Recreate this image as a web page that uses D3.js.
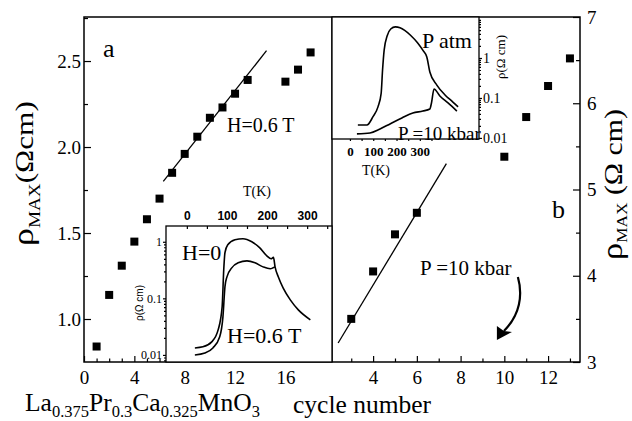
<!DOCTYPE html>
<html>
<head>
<meta charset="utf-8">
<script src="https://cdn.jsdelivr.net/npm/d3@7"></script>
<style>
body { margin: 0; background: #fff; }
svg { display: block; }
</style>
</head>
<body>
<div id="chart"></div>
<script>
var width = 632, height = 421;
var serif = "'Liberation Serif', Tinos, 'Times New Roman', Times, 'Nimbus Roman', 'Noto Serif', 'DejaVu Serif', FreeSerif, serif";
var sans = "'Liberation Sans', Arial, sans-serif";

// panel a: rho_max vs cycle number, H = 0.6 T
var cyclesA = [1, 2, 3, 4, 5, 6, 7, 8, 9, 10, 11, 12, 13, 16, 17, 18];
var rhoA = [0.84, 1.14, 1.31, 1.45, 1.58, 1.70, 1.85, 1.96, 2.06, 2.17, 2.23, 2.31, 2.39, 2.38, 2.45, 2.55];
var fitCyclesA = [6.3, 14.5];
var fitRhoA = [1.80, 2.56];

// panel b: rho_max vs cycle number, P = 10 kbar
var cyclesB = [3, 4, 5, 6, 10, 11, 12, 13];
var rhoB = [3.50, 4.05, 4.48, 4.73, 5.38, 5.84, 6.20, 6.52];
var fitCyclesB = [2.4, 7.35];
var fitRhoB = [3.22, 5.30];

// inset a: rho(T) for H = 0 and H = 0.6 T
var tempH0 = [20, 40, 62, 78, 88, 92, 95, 102, 120, 140, 162, 182, 200, 210, 216, 220, 228, 240, 258, 278, 308];
var rhoH0 = [0.0133, 0.0139, 0.017, 0.0277, 0.0706, 0.32, 0.64, 0.885, 1.085, 1.13, 1.0, 0.78, 0.56, 0.5, 0.53, 0.36, 0.24, 0.153, 0.094, 0.0625, 0.0418];
var tempH06 = [20, 45, 65, 82, 90, 95, 100, 112, 128, 150, 170, 190, 208, 215, 220];
var rhoH06 = [0.0100, 0.0108, 0.0133, 0.0209, 0.047, 0.16, 0.24, 0.346, 0.425, 0.46, 0.425, 0.36, 0.333, 0.346, 0.36];

// inset b: rho(T) at atmospheric pressure and 10 kbar
var tempAtm = [34, 73, 99, 120, 134, 140, 147, 160, 175, 195, 215, 235, 260, 290, 315, 330, 343, 373, 408, 442, 464];
var rhoAtm = [0.021, 0.021, 0.034, 0.059, 0.13, 0.5, 1.6, 3.6, 5.3, 6.0, 5.7, 4.9, 3.7, 2.4, 1.5, 1.06, 0.447, 0.21, 0.119, 0.079, 0.06];
var temp10k = [30, 86, 129, 172, 223, 270, 313, 343, 350, 361, 386, 421, 459];
var rho10k = [0.0126, 0.0133, 0.0168, 0.0224, 0.0316, 0.042, 0.047, 0.053, 0.075, 0.168, 0.112, 0.075, 0.047];

var tickTempLabels = [0, 100, 200, 300];
var logTicks = [0.01, 0.1, 1];

var svg = d3.select("#chart").append("svg")
    .attr("width", width)
    .attr("height", height)
    .style("font-family", serif);

var xA = d3.scaleLinear().domain([0, 19.7]).range([84, 332]);
var yA = d3.scaleLinear().domain([0.75, 2.756]).range([362, 17]);
var xB = d3.scaleLinear().domain([2.12, 13.46]).range([332, 580]);
var yB = d3.scaleLinear().domain([3, 7]).range([362, 17]);

var xI1 = d3.scaleLinear().domain([-52, 362]).range([166, 332]);
var yI1 = d3.scaleLog().domain([0.0075, 1.9]).range([362, 226]);
var xI2 = d3.scaleLinear().domain([-77, 554]).range([332, 479]);
var yI2 = d3.scaleLog().domain([0.0094, 10.6]).range([139, 17]);

function styleAxis(g, size, weight, family) {
    g.attr("font-family", null).attr("font-size", null);
    g.select(".domain").remove();
    g.selectAll(".tick line").attr("stroke", "#000").attr("stroke-width", 1.2);
    g.selectAll("text")
        .attr("fill", "#000")
        .style("font-size", size + "px")
        .style("font-weight", weight || "normal")
        .style("font-family", family || serif);
}

function minorLog(scale) {
    var out = [];
    [0.001, 0.01, 0.1, 1].forEach(function (d) {
        for (var k = 2; k <= 9; k++) {
            var v = d * k;
            if (v >= scale.domain()[0] && v <= scale.domain()[1]) out.push(v);
        }
    });
    return out;
}

function label(x, y, size, str) {
    return svg.append("text").attr("x", x).attr("y", y)
        .style("font-family", serif).style("font-size", size + "px").text(str);
}

// ---- main axes, panel a
svg.append("g")
    .attr("transform", "translate(0,362)")
    .call(d3.axisBottom(xA).tickValues(d3.range(0, 20)).tickSize(-3).tickPadding(9)
        .tickFormat(function (d) { return d % 4 === 0 && d <= 16 ? d : ""; }))
    .call(styleAxis, 19)
    .call(function (g) {
        g.selectAll(".tick line").attr("y2", function (d) { return d % 4 === 0 ? -6 : -3.5; });
    });

svg.append("g")
    .attr("transform", "translate(84,0)")
    .call(d3.axisLeft(yA).tickValues(d3.range(1, 2.76, 0.25)).tickSize(-4).tickPadding(3)
        .tickFormat(function (d) { return Math.abs(d * 2 - Math.round(d * 2)) < 1e-6 ? d.toFixed(1) : ""; }))
    .call(styleAxis, 19)
    .call(function (g) {
        g.selectAll(".tick line").attr("x2", function (d) { return Math.abs(d * 2 - Math.round(d * 2)) < 1e-6 ? 7 : 4; });
        g.selectAll("text").attr("x", -3);
    });

// ---- main axes, panel b
svg.append("g")
    .attr("transform", "translate(0,362)")
    .call(d3.axisBottom(xB).tickValues(d3.range(3, 14)).tickSize(-3).tickPadding(9)
        .tickFormat(function (d) { return d % 2 === 0 ? d : ""; }))
    .call(styleAxis, 19)
    .call(function (g) {
        g.selectAll(".tick line").attr("y2", function (d) { return d % 2 === 0 ? -6 : -3.5; });
    });

svg.append("g")
    .attr("transform", "translate(580,0)")
    .call(d3.axisRight(yB).tickValues(d3.range(3, 7.01, 0.5)).tickSize(-4).tickPadding(7)
        .tickFormat(function (d) { return d % 1 === 0 ? d : ""; }))
    .call(styleAxis, 19)
    .call(function (g) {
        g.selectAll(".tick line").attr("x2", function (d) { return d % 1 === 0 ? -7 : -4; });
        g.selectAll("text").attr("x", 7);
    });

// frame and panel divider
svg.append("rect")
    .attr("x", xA(0)).attr("y", 17)
    .attr("width", xB.range()[1] - xA(0)).attr("height", 362 - 17)
    .attr("fill", "none").attr("stroke", "#000").attr("stroke-width", 1.5);
svg.append("line")
    .attr("x1", 332).attr("x2", 332).attr("y1", 17).attr("y2", 362)
    .attr("stroke", "#000").attr("stroke-width", 1.5);

// ---- data, panel a
var sq = 8;
svg.append("g").selectAll("rect")
    .data(cyclesA)
    .enter().append("rect")
    .attr("x", function (d) { return xA(d) - sq / 2; })
    .attr("y", function (d, i) { return yA(rhoA[i]) - sq / 2; })
    .attr("width", sq).attr("height", sq)
    .attr("fill", "#000");

svg.append("line")
    .attr("x1", xA(fitCyclesA[0])).attr("y1", yA(fitRhoA[0]))
    .attr("x2", xA(fitCyclesA[1])).attr("y2", yA(fitRhoA[1]))
    .attr("stroke", "#000").attr("stroke-width", 1.3);

// ---- data, panel b
svg.append("g").selectAll("rect")
    .data(cyclesB)
    .enter().append("rect")
    .attr("x", function (d) { return xB(d) - sq / 2; })
    .attr("y", function (d, i) { return yB(rhoB[i]) - sq / 2; })
    .attr("width", sq).attr("height", sq)
    .attr("fill", "#000");

svg.append("line")
    .attr("x1", xB(fitCyclesB[0])).attr("y1", yB(fitRhoB[0]))
    .attr("x2", xB(fitCyclesB[1])).attr("y2", yB(fitRhoB[1]))
    .attr("stroke", "#000").attr("stroke-width", 1.3);

// ---- inset a
svg.append("rect")
    .attr("x", 166).attr("y", 226).attr("width", 332 - 166).attr("height", 362 - 226)
    .attr("fill", "#fff").attr("stroke", "#000").attr("stroke-width", 1.3);

svg.append("g")
    .attr("transform", "translate(0,226)")
    .call(d3.axisTop(xI1).tickValues(d3.range(0, 351, 50)).tickSize(-3).tickPadding(6)
        .tickFormat(function (d) { return tickTempLabels.indexOf(d) >= 0 ? d : ""; }))
    .call(styleAxis, 12, "bold", sans);

svg.append("g")
    .attr("transform", "translate(166,0)")
    .call(d3.axisLeft(yI1).tickValues(logTicks).tickSize(3).tickPadding(1)
        .tickFormat(function (d) { return d >= 1 ? "1" : String(d); }))
    .call(styleAxis, 12);
svg.append("g")
    .attr("transform", "translate(166,0)")
    .call(d3.axisLeft(yI1).tickValues(minorLog(yI1)).tickSize(2).tickFormat(""))
    .call(styleAxis, 12);

var lineI1 = d3.line().curve(d3.curveMonotoneX)
    .x(function (d) { return xI1(d[0]); })
    .y(function (d) { return yI1(d[1]); });

svg.append("path")
    .attr("d", lineI1(d3.zip(tempH0, rhoH0)))
    .attr("fill", "none").attr("stroke", "#000").attr("stroke-width", 1.6);
svg.append("path")
    .attr("d", lineI1(d3.zip(tempH06, rhoH06)))
    .attr("fill", "none").attr("stroke", "#000").attr("stroke-width", 1.6);

label(257, 196, 14, "T(K)").attr("text-anchor", "middle");
svg.append("text")
    .attr("transform", "translate(143,303) rotate(-90)")
    .attr("text-anchor", "middle")
    .style("font-family", sans)
    .style("font-size", "10px")
    .text("ρ(Ω cm)");
label(182, 260, 22, "H=0");
label(227, 343, 22, "H=0.6 T");

// ---- inset b
svg.append("rect")
    .attr("x", 332).attr("y", 17).attr("width", 479 - 332).attr("height", 139 - 17)
    .attr("fill", "#fff").attr("stroke", "#000").attr("stroke-width", 1.3);

svg.append("g")
    .attr("transform", "translate(0,139)")
    .call(d3.axisBottom(xI2).tickValues(d3.range(0, 351, 50)).tickSize(2).tickPadding(6)
        .tickFormat(function (d) { return tickTempLabels.indexOf(d) >= 0 ? d : ""; }))
    .call(styleAxis, 13, "bold");

svg.append("g")
    .attr("transform", "translate(479,0)")
    .call(d3.axisRight(yI2).tickValues(logTicks).tickSize(3).tickPadding(1)
        .tickFormat(function (d) { return d >= 1 ? "1" : String(d); }))
    .call(styleAxis, 14);
svg.append("g")
    .attr("transform", "translate(479,0)")
    .call(d3.axisRight(yI2).tickValues(minorLog(yI2)).tickSize(2).tickFormat(""))
    .call(styleAxis, 14);

var lineI2 = d3.line().curve(d3.curveMonotoneX)
    .x(function (d) { return xI2(d[0]); })
    .y(function (d) { return yI2(d[1]); });

svg.append("path")
    .attr("d", lineI2(d3.zip(tempAtm, rhoAtm)))
    .attr("fill", "none").attr("stroke", "#000").attr("stroke-width", 1.6);
svg.append("path")
    .attr("d", lineI2(d3.zip(temp10k, rho10k)))
    .attr("fill", "none").attr("stroke", "#000").attr("stroke-width", 1.6);

label(376, 175, 14, "T(K)").attr("text-anchor", "middle");
svg.append("text")
    .attr("transform", "translate(505,57) rotate(-90)")
    .attr("text-anchor", "middle")
    .style("font-family", serif)
    .style("font-size", "13px")
    .text("ρ(Ω cm)");
label(422, 48, 22, "P atm");
label(398, 140, 19, "P =10 kbar");

// ---- panel letters and notes
label(103, 57, 26, "a");
label(552, 218, 26, "b");
label(227, 132, 20, "H=0.6 T");
label(420, 275, 21, "P =10 kbar");

// arrow towards the high-cycle points
var arrowPath = d3.path();
arrowPath.moveTo(xB(10.62), yB(3.985));
arrowPath.bezierCurveTo(xB(10.85), yB(3.777), xB(10.72), yB(3.545), xB(9.98), yB(3.36));
svg.append("path").attr("d", arrowPath.toString())
    .attr("fill", "none").attr("stroke", "#000").attr("stroke-width", 2.2);
svg.append("path")
    .attr("d", "M" + xB(9.66) + "," + yB(3.255) + "L" + xB(9.66) + "," + yB(3.417) +
        "L" + xB(9.98) + "," + yB(3.36) + "L" + xB(10.35) + "," + yB(3.348) + "Z")
    .attr("fill", "#000");

// axis titles
var leftTitle = svg.append("text")
    .style("font-family", serif)
    .attr("transform", "translate(33,246) rotate(-90) scale(1.2,1)");
leftTitle.append("tspan").style("font-size", "30px").text("ρ");
leftTitle.append("tspan").style("font-size", "16px").attr("dy", 7).text("MAX");
leftTitle.append("tspan").style("font-size", "26px").attr("dy", -7).text("(Ωcm)");

var rightTitle = svg.append("text")
    .style("font-family", serif)
    .attr("transform", "translate(622,260) rotate(-90) scale(1.15,1)");
rightTitle.append("tspan").style("font-size", "30px").text("ρ");
rightTitle.append("tspan").style("font-size", "15px").attr("dy", 5).text("MAX");
rightTitle.append("tspan").style("font-size", "26px").attr("dy", -5).text(" (Ω cm)");

var formula = svg.append("text").attr("x", 25).attr("y", 411)
    .style("font-family", serif).style("font-size", "25.5px");
[["La", "0.375"], ["Pr", "0.3"], ["Ca", "0.325"], ["MnO", "3"]].forEach(function (p) {
    formula.append("tspan").attr("dy", p[0] === "La" ? 0 : -6).text(p[0]);
    formula.append("tspan").attr("dy", 6).style("font-size", "16.5px").text(p[1]);
});
label(293, 413, 25.5, "cycle number");
</script>
</body>
</html>
